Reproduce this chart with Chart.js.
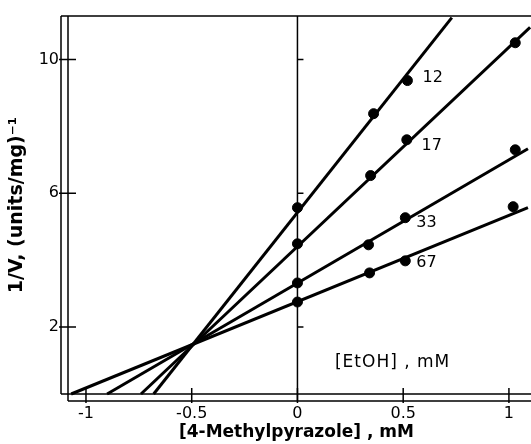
<!DOCTYPE html>
<html>
<head>
<meta charset="utf-8">
<script src="https://cdn.jsdelivr.net/npm/chart.js@4"></script>
<style>
  html, body { margin: 0; padding: 0; background: #fff; }
  #wrap { width: 531px; height: 444px; position: relative; }
</style>
</head>
<body>
<div id="wrap"><canvas id="c" width="531" height="444"></canvas></div>
<script>
// Series names ([EtOH], mM)
const seriesNames = ['12', '17', '33', '67'];

// Measured points (x = [4-Methylpyrazole] mM, y = 1/V)
const x12 = [0, 0.36, 0.52];
const y12 = [5.57, 8.38, 9.37];
const x17 = [0, 0.346, 0.517, 1.03];
const y17 = [4.49, 6.53, 7.6, 10.5];
const x33 = [0, 0.336, 0.51, 1.03];
const y33 = [3.32, 4.46, 5.27, 7.3];
const x67 = [0, 0.341, 0.51, 1.02];
const y67 = [2.75, 3.62, 3.98, 5.6];

// Fitted line endpoints
const lineX12 = [-0.68, 0.73];  const lineY12 = [0, 11.25];
const lineX17 = [-0.74, 1.10];  const lineY17 = [0, 10.96];
const lineX33 = [-0.90, 1.09];  const lineY33 = [0, 7.33];
const lineX67 = [-1.07, 1.09];  const lineY67 = [0, 5.57];

// Label anchor positions (data coords)
const labelX = [0.64, 0.635, 0.61, 0.61];
const labelY = [9.46, 7.42, 5.13, 3.93];

// Ticks
const xTicks = [-1, -0.5, 0, 0.5, 1];
const xTickLabels = ['-1', '-0.5', '0', '0.5', '1'];
const yTicks = [2, 6, 10];
const yTickLabels = ['2', '6', '10'];

const zip = (xs, ys) => xs.map((x, i) => ({ x: x, y: ys[i] }));

const lineSets = [[lineX12, lineY12], [lineX17, lineY17], [lineX33, lineY33], [lineX67, lineY67]];
const pointSets = [[x12, y12], [x17, y17], [x33, y33], [x67, y67]];

const datasets = [];
lineSets.forEach((s, i) => {
  datasets.push({
    type: 'line', label: 'fit ' + seriesNames[i], data: zip(s[0], s[1]),
    borderColor: '#000', borderWidth: 3, pointRadius: 0, fill: false, tension: 0, clip: false
  });
});
pointSets.forEach((s, i) => {
  datasets.push({
    type: 'scatter', label: seriesNames[i], data: zip(s[0], s[1]),
    backgroundColor: '#000', borderColor: '#000', pointRadius: 5, pointHoverRadius: 5, showLine: false, clip: false
  });
});

const zeroPad = s => { s.paddingTop = 0; s.paddingBottom = 0; s.paddingLeft = 0; s.paddingRight = 0; };
const FONT = '"DejaVu Sans", "Liberation Sans", Arial, sans-serif';

const decor = {
  id: 'decor',
  beforeDatasetsDraw(chart) {
    const ctx = chart.ctx, xs = chart.scales.x, ys = chart.scales.y, a = chart.chartArea;
    ctx.save();
    ctx.strokeStyle = '#000';
    ctx.lineWidth = 1.5;
    ctx.beginPath();
    ctx.moveTo(a.left - 7, a.top); ctx.lineTo(chart.width, a.top);
    ctx.moveTo(a.left, a.top); ctx.lineTo(a.left, a.bottom + 7);
    ctx.moveTo(a.left - 7, a.top); ctx.lineTo(a.left - 7, a.bottom);
    ctx.moveTo(a.left - 7, a.bottom); ctx.lineTo(chart.width, a.bottom);
    ctx.moveTo(a.left, a.bottom + 7); ctx.lineTo(chart.width, a.bottom + 7);
    const x0 = xs.getPixelForValue(0);
    ctx.moveTo(x0, a.top); ctx.lineTo(x0, a.bottom + 7);
    ctx.stroke();
    ctx.beginPath();
    yTicks.forEach(v => {
      const y = ys.getPixelForValue(v);
      ctx.moveTo(a.left - 9, y); ctx.lineTo(a.left + 8, y);
      ctx.moveTo(x0, y); ctx.lineTo(x0 + 6, y);
    });
    xTicks.forEach(v => {
      const x = xs.getPixelForValue(v);
      ctx.moveTo(x, a.bottom - 6); ctx.lineTo(x, a.bottom + 9);
    });
    ctx.stroke();
    ctx.restore();
  },
  afterDatasetsDraw(chart) {
    const ctx = chart.ctx, xs = chart.scales.x, ys = chart.scales.y;
    ctx.save();
    ctx.fillStyle = '#000';
    ctx.textAlign = 'center';
    ctx.textBaseline = 'middle';
    ctx.font = '16px ' + FONT;
    seriesNames.forEach((n, i) => {
      ctx.fillText(n, xs.getPixelForValue(labelX[i]), ys.getPixelForValue(labelY[i]));
    });
    ctx.font = '17px ' + FONT;
    try { ctx.letterSpacing = '1px'; } catch (e) {}
    ctx.fillText('[EtOH] , mM', xs.getPixelForValue(0.45), ys.getPixelForValue(0.95));
    ctx.restore();
  }
};

new Chart(document.getElementById('c'), {
  type: 'scatter',
  data: { datasets: datasets },
  options: {
    responsive: false,
    animation: false,
    devicePixelRatio: 1,
    layout: { padding: { top: 16, right: 0, left: 0, bottom: 0 } },
    plugins: { legend: { display: false }, tooltip: { enabled: false } },
    scales: {
      x: {
        type: 'linear', min: -1.085, max: 1.076,
        border: { display: false },
        grid: { display: false, drawTicks: false },
        afterBuildTicks: s => { s.ticks = xTicks.map(v => ({ value: v })); },
        afterFit: s => { s.height = 50; zeroPad(s); },
        ticks: {
          padding: 10, color: '#000', maxRotation: 0, autoSkip: false,
          font: { family: FONT, size: 16 },
          callback: (v) => xTickLabels[xTicks.indexOf(v)]
        },
        title: {
          display: true, text: '[4-Methylpyrazole] , mM', color: '#000',
          font: { family: FONT, size: 17, weight: 'bold', lineHeight: 1.2 },
          padding: { top: 0, bottom: 1 }
        }
      },
      y: {
        type: 'linear', min: 0, max: 11.3,
        border: { display: false },
        grid: { display: false, drawTicks: false },
        afterBuildTicks: s => { s.ticks = yTicks.map(v => ({ value: v })); },
        afterFit: s => { s.width = 68; zeroPad(s); },
        ticks: {
          padding: 9, color: '#000',
          font: { family: FONT, size: 16 },
          callback: (v) => yTickLabels[yTicks.indexOf(v)]
        },
        title: {
          display: true, text: '1/V, (units/mg)⁻¹', color: '#000',
          font: { family: FONT, size: 19, weight: 'bold', lineHeight: 1.2 },
          padding: { top: 6, bottom: 0 }
        }
      }
    }
  },
  plugins: [decor]
});
</script>
</body>
</html>
